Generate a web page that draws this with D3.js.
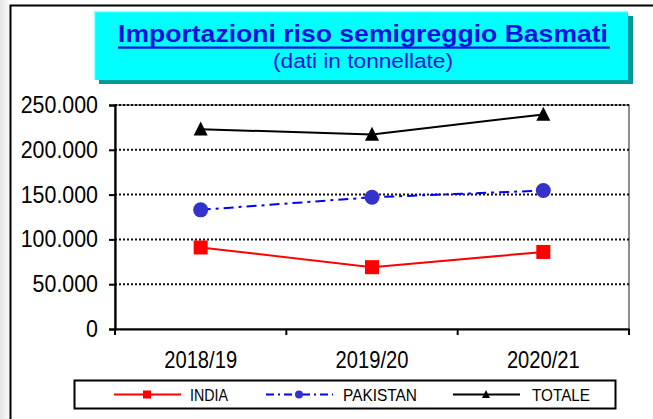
<!DOCTYPE html>
<html>
<head>
<meta charset="utf-8">
<script src="https://cdn.jsdelivr.net/npm/d3@7"></script>
<style>
	body { margin: 0; background: #fff; }
	svg { display: block; font-family: "Liberation Sans", Arial, sans-serif; }
</style>
</head>
<body>
<svg id="svg" width="653" height="419"></svg>
<script>
var categories = ["2018/19", "2019/20", "2020/21"]
var india = [91000, 69000, 86000]
var pakistan = [133000, 147000, 154500]
var totale = [223000, 217000, 239500]
var yTicks = [0, 50000, 100000, 150000, 200000, 250000]
var yTickLabels = ["0", "50.000", "100.000", "150.000", "200.000", "250.000"]

var series = [
	{name: "INDIA", values: india, color: "#ff0000", dash: null, marker: "square"},
	{name: "PAKISTAN", values: pakistan, color: "#0000ff", dash: "10,5,3,5", marker: "circle"},
	{name: "TOTALE", values: totale, color: "#000000", dash: null, marker: "triangle"}
]

var svg = d3.select("#svg")
var pLeft = 115, pRight = 629, pTop = 105, pBottom = 329

// squeeze/stretch a text to a given width
function fit(t, w) {
	t.attr("textLength", w).attr("lengthAdjust", "spacingAndGlyphs")
}

// grey shading left of the frame
var grad = svg.append("defs").append("linearGradient").attr("id", "sh")
grad.append("stop").attr("offset", "0").attr("stop-color", "#e4e4e4")
grad.append("stop").attr("offset", "1").attr("stop-color", "#fafafa")
svg.append("rect").attr("x", 0).attr("y", 0).attr("width", 9).attr("height", 419).attr("fill", "url(#sh)")

// outer frame
svg.append("path")
	.attr("d", "M10.5,419 V5.5 H653")
	.attr("fill", "none").attr("stroke", "#000").attr("stroke-width", 2)

// title box
svg.append("rect").attr("x", 99).attr("y", 16).attr("width", 534).attr("height", 68).attr("fill", "#009999")
svg.append("rect").attr("x", 94).attr("y", 11).attr("width", 534).attr("height", 69).attr("fill", "#00ffff")
svg.append("path").attr("d", "M94.5,80 V11.5 H628").attr("fill", "none").attr("stroke", "#99ffff").attr("stroke-width", 1.5)

var title = svg.append("text")
	.attr("x", 363).attr("y", 42)
	.attr("text-anchor", "middle")
	.attr("font-size", 24).attr("font-weight", "bold")
	.attr("fill", "#1010dd")
	.text("Importazioni riso semigreggio Basmati")
fit(title, 490)
svg.append("rect").attr("x", 118).attr("y", 46.5).attr("width", 492).attr("height", 2.2).attr("fill", "#1010dd")

var sub = svg.append("text")
	.attr("x", 363).attr("y", 68)
	.attr("text-anchor", "middle")
	.attr("font-size", 20.5)
	.attr("fill", "#1010dd")
	.text("(dati in tonnellate)")
fit(sub, 180)

// scales
var x = d3.scaleBand().domain(categories).range([pLeft, pRight])
var y = d3.scaleLinear().domain([0, 250000]).range([pBottom, pTop])
function cx(c) { return x(c) + x.bandwidth() / 2 }

// plot frame
svg.append("rect")
	.attr("x", pLeft).attr("y", pTop)
	.attr("width", pRight - pLeft).attr("height", pBottom - pTop)
	.attr("fill", "none").attr("stroke", "#444").attr("stroke-width", 1.2)

// gridlines
svg.selectAll(".grid")
	.data(yTicks.filter(function (d) { return d > 0 }))
	.enter().append("line")
	.attr("x1", pLeft).attr("x2", pRight)
	.attr("y1", function (d) { return y(d) }).attr("y2", function (d) { return y(d) })
	.attr("stroke", "#111").attr("stroke-width", 2).attr("stroke-dasharray", "2,2")

// y axis
var yAxis = svg.append("g")
	.attr("transform", "translate(" + pLeft + ",0)")
	.call(d3.axisLeft(y).tickValues(yTicks).tickSize(6).tickPadding(11)
		.tickFormat(function (d, i) { return yTickLabels[i] }))
yAxis.select(".domain").attr("stroke", "#000").attr("stroke-width", 2.2)
yAxis.selectAll(".tick line").attr("stroke", "#000").attr("stroke-width", 2)
yAxis.selectAll(".tick text")
	.attr("font-size", 23.5).attr("fill", "#000")
	.attr("font-family", "Liberation Sans, Arial, sans-serif")
	.each(function () {
		var t = d3.select(this)
		fit(t, this.getComputedTextLength() * 0.91)
	})

// x axis
var xAxis = svg.append("g")
	.attr("transform", "translate(0," + pBottom + ")")
	.call(d3.axisBottom(x).tickSize(0).tickPadding(22))
xAxis.select(".domain").attr("stroke", "#000").attr("stroke-width", 2.2)
xAxis.selectAll(".tick text")
	.attr("font-size", 24).attr("fill", "#000")
	.attr("font-family", "Liberation Sans, Arial, sans-serif")
	.each(function () {
		var t = d3.select(this)
		fit(t, this.getComputedTextLength() * 0.84)
	})
svg.selectAll(".xtick")
	.data(categories.concat([null]))
	.enter().append("line")
	.attr("x1", function (d) { return d ? x(d) : pRight })
	.attr("x2", function (d) { return d ? x(d) : pRight })
	.attr("y1", pBottom).attr("y2", pBottom + 6)
	.attr("stroke", "#000").attr("stroke-width", 2)

// markers
function marker(g, type, color, s) {
	if (type == "square")
		g.append("rect").attr("x", -s / 2).attr("y", -s / 2).attr("width", s).attr("height", s).attr("fill", color)
	else if (type == "circle")
		g.append("circle").attr("r", s / 2).attr("fill", "#3333cc")
	else
		g.append("path").attr("d", "M0," + (-s * 0.55) + " L" + (s / 2) + "," + (s * 0.45) + " L" + (-s / 2) + "," + (s * 0.45) + " Z").attr("fill", color)
}

var line = d3.line()
	.x(function (d, i) { return cx(categories[i]) })
	.y(function (d) { return y(d) })

series.forEach(function (s) {
	svg.append("path")
		.attr("d", line(s.values))
		.attr("fill", "none")
		.attr("stroke", s.color)
		.attr("stroke-width", 2)
		.attr("stroke-dasharray", s.dash)
	s.values.forEach(function (v, i) {
		var g = svg.append("g").attr("transform", "translate(" + cx(categories[i]) + "," + y(v) + ")")
		marker(g, s.marker, s.color, s.marker == "circle" ? 15 : 14)
	})
})

// legend
svg.append("rect")
	.attr("x", 74.5).attr("y", 380.5).attr("width", 541).attr("height", 28)
	.attr("fill", "#fff").attr("stroke", "#000").attr("stroke-width", 2)

var legX = [114, 266, 453]
var legW = [190, 343, 532]
var legTextW = [38, 74, 58]
series.forEach(function (s, i) {
	var ly = 394.5
	svg.append("line")
		.attr("x1", legX[i]).attr("x2", legX[i] + 67)
		.attr("y1", ly).attr("y2", ly)
		.attr("stroke", s.color).attr("stroke-width", 2)
		.attr("stroke-dasharray", s.dash ? "8,4,2,4" : null)
	var g = svg.append("g").attr("transform", "translate(" + (legX[i] + 33) + "," + ly + ")")
	marker(g, s.marker, s.color, 8)
	var t = svg.append("text")
		.attr("x", legW[i]).attr("y", ly + 6.5)
		.attr("font-size", 17).attr("fill", "#000")
		.text(s.name)
	fit(t, legTextW[i])
})
</script>
</body>
</html>
